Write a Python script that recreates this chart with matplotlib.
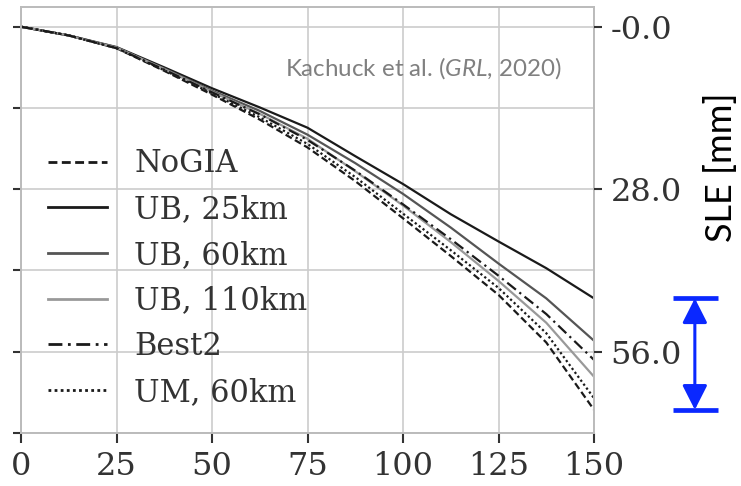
import matplotlib
matplotlib.use("Agg")
import matplotlib.pyplot as plt

# years since start
years = [0, 12.5, 25, 37.5, 50, 62.5, 75, 87.5, 100, 112.5, 125, 137.5, 150]

# sea-level equivalent (mm)
nogia = [0, 1.5, 3.7, 7.6, 11.7, 16.0, 20.8, 26.6, 33.0, 39.5, 46.2, 54.4, 66.0]
ub_25 = [0, 1.5, 3.5, 7.0, 10.6, 13.9, 17.4, 22.3, 27.1, 32.3, 37.0, 41.6, 46.8]
ub_60 = [0, 1.5, 3.6, 7.2, 11.0, 14.5, 18.6, 23.5, 28.8, 34.6, 40.8, 46.8, 54.1]
ub_110 = [0, 1.5, 3.6, 7.3, 11.2, 15.0, 19.3, 24.9, 30.8, 37.1, 43.8, 51.0, 60.3]
best2 = [0, 1.5, 3.7, 7.4, 11.3, 15.1, 19.5, 24.8, 30.6, 36.6, 42.9, 49.5, 57.4]
um_60 = [0, 1.5, 3.7, 7.5, 11.5, 15.6, 20.2, 25.9, 32.2, 38.5, 45.0, 52.8, 64.0]

x_ticks = [0, 25, 50, 75, 100, 125, 150]
right_ticks = [0, 28, 56]
right_labels = ["-0.0", "28.0", "56.0"]

plt.rcParams["mathtext.fontset"] = "custom"
plt.rcParams["mathtext.rm"] = "Lato"
plt.rcParams["mathtext.it"] = "Lato:italic"

fig = plt.figure(figsize=(7.41, 4.86), dpi=100)
ax = fig.add_axes([21 / 741, 1 - 433 / 486, 573 / 741, 426 / 486])

series = [
    (nogia, "NoGIA", "#1a1a1a", (0, (3.2, 1.6))),
    (ub_25, "UB, 25km", "#1a1a1a", "-"),
    (ub_60, "UB, 60km", "#555555", "-"),
    (ub_110, "UB, 110km", "#999999", "-"),
    (best2, "Best2", "#1a1a1a", (0, (5, 2, 1, 2))),
    (um_60, "UM, 60km", "#1a1a1a", (0, (1, 1.2))),
]
for vals, label, color, ls in series:
    ax.plot(years, vals, color=color, linestyle=ls, linewidth=1.6, label=label)

ax.set_xlim(0, 150)
ax.set_ylim(70, -3.4)
ax.set_xticks(x_ticks)
ax.set_yticks([0, 14, 28, 42, 56, 70])
ax.set_yticklabels([])
ax.grid(True, color="#cccccc", linewidth=1.2)
ax.set_axisbelow(True)
for s in ax.spines.values():
    s.set_color("#bbbbbb")
    s.set_linewidth(1.4)
ax.tick_params(axis="x", length=7, width=1.5, color="#333333",
               labelsize=23, labelcolor="#333333", pad=6)
ax.tick_params(axis="y", length=6, width=1.5, color="#333333")
for lab in ax.get_xticklabels():
    lab.set_family("DejaVu Serif")

ax2 = ax.twinx()
ax2.set_ylim(ax.get_ylim())
ax2.set_yticks(right_ticks)
ax2.set_yticklabels(right_labels, family="DejaVu Serif")
ax2.tick_params(axis="y", length=6, width=1.5, color="#333333",
                labelsize=23, labelcolor="#333333", pad=6)
for s in ax2.spines.values():
    s.set_visible(False)

leg = ax.legend(loc="upper left", bbox_to_anchor=(0.025, 0.697), frameon=False,
                prop={"family": "DejaVu Serif", "size": 22},
                handlelength=1.96, handletextpad=0.88, labelspacing=0.48,
                borderaxespad=0)
for t in leg.get_texts():
    t.set_color("#333333")
for h in leg.get_lines():
    h.set_linewidth(2.0)

fig.text(423 / 741, 1 - 68 / 486, r"Kachuck et al. ($\mathit{GRL}$, 2020)",
         ha="center", va="center", fontsize=17.4, color="#808080",
         family="Lato")
fig.text(721 / 741, 1 - 167 / 486, "SLE [mm]", rotation=90,
         ha="center", va="center", fontsize=26, family="Lato")

# blue range marker spanning the spread of the end values
top_end = min(s[0][-1] for s in series)
bot_end = max(s[0][-1] for s in series)
arrow_x = 176.4
blue = "#0a28ff"
for yv in (top_end, bot_end):
    ax.plot([170.7, 182.5], [yv, yv], color=blue, linewidth=3.4,
            solid_capstyle="butt", clip_on=False)
ax.annotate("", xy=(arrow_x, top_end), xytext=(arrow_x, bot_end),
            arrowprops=dict(arrowstyle="<|-|>,head_length=0.75,head_width=0.38",
                            color=blue, lw=2.2, shrinkA=0, shrinkB=0,
                            mutation_scale=20),
            annotation_clip=False)

fig.savefig("out.png", dpi=100)
